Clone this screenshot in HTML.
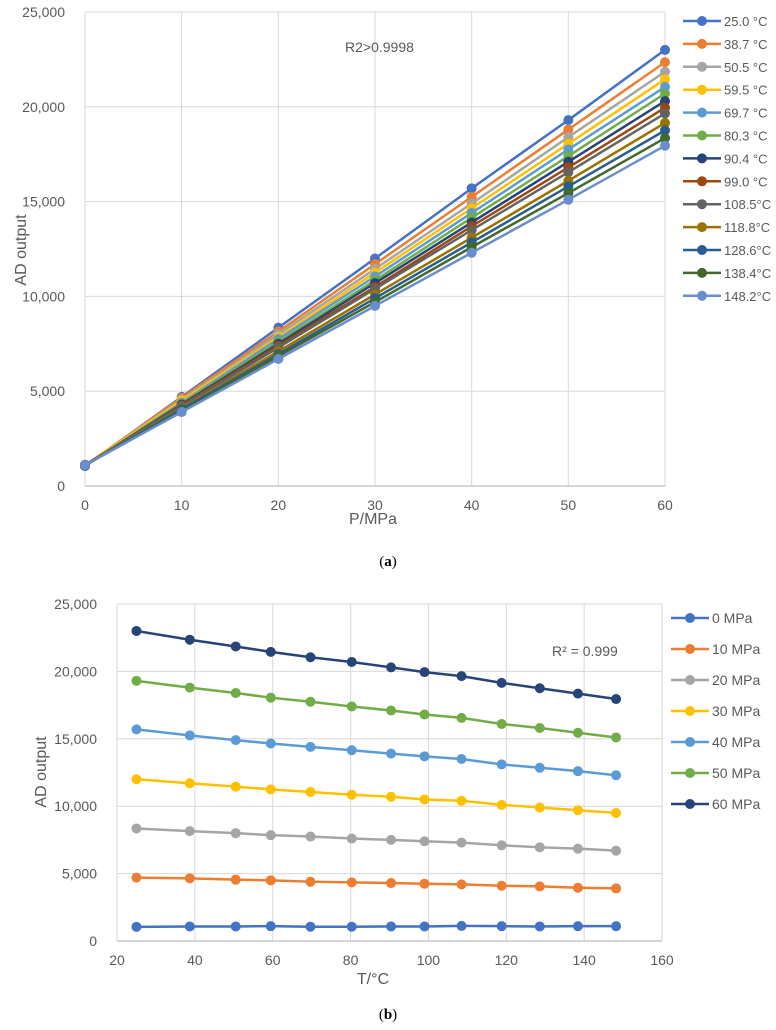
<!DOCTYPE html>
<html><head><meta charset="utf-8"><style>
body{margin:0;background:#fff;}
svg{display:block;font-family:"Liberation Sans",sans-serif;}
</style></head><body>
<svg id="s" width="776" height="1030"></svg>
<script>
const temps=[25,38.7,50.5,59.5,69.7,80.3,90.4,99.0,108.5,118.8,128.6,138.4,148.2];
const tempLabels=["25.0 °C","38.7 °C","50.5 °C","59.5 °C","69.7 °C","80.3 °C","90.4 °C","99.0 °C","108.5°C","118.8°C","128.6°C","138.4°C","148.2°C"];
const pressures=[0,10,20,30,40,50,60];
const pressureLabels=[" 0 MPa","10 MPa","20 MPa","30 MPa","40 MPa","50 MPa","60 MPa"];
const v0=[1050,1080,1080,1100,1060,1060,1080,1080,1120,1100,1080,1100,1100];
const v10=[4700,4650,4550,4500,4400,4350,4300,4250,4200,4100,4050,3950,3900];
const v20=[8350,8150,8000,7850,7750,7600,7500,7400,7300,7100,6950,6850,6700];
const v30=[12000,11700,11450,11250,11050,10850,10700,10500,10400,10100,9900,9700,9500];
const v40=[15700,15250,14900,14650,14400,14150,13900,13700,13500,13100,12850,12600,12300];
const v50=[19300,18800,18400,18050,17750,17400,17100,16800,16550,16100,15800,15450,15100];
const v60=[23000,22350,21850,21450,21050,20700,20300,19950,19650,19150,18750,18350,17950];
const yTicks=[0,5000,10000,15000,20000,25000];
const yTickLabels=["0","5,000","10,000","15,000","20,000","25,000"];
const xTicksA=[0,10,20,30,40,50,60];
const xTicksB=[20,40,60,80,100,120,140,160];
const colors=["#4472C4","#ED7D31","#A5A5A5","#FFC000","#5B9BD5","#70AD47","#264478","#9E480E","#636363","#997300","#255E91","#43682B","#698ED0"];
const byP=[v0,v10,v20,v30,v40,v50,v60];
const NS="http://www.w3.org/2000/svg";
const svg=document.getElementById('s');
function el(t,a,p){const e=document.createElementNS(NS,t);for(const k in a)e.setAttribute(k,a[k]);(p||svg).appendChild(e);return e;}
function txt(x,y,s,a,p){const e=el('text',Object.assign({x:x,y:y,fill:'#595959','font-size':14},a),p);e.textContent=s;return e;}

function chart(cfg){
  const g=el('g',{});
  
  
  const X=v=>cfg.x0+(v-cfg.xmin)/(cfg.xmax-cfg.xmin)*(cfg.x1-cfg.x0);
  const Y=v=>cfg.y0-(v/25000)*(cfg.y0-cfg.y1);
  cfg.xt.forEach(t=>{const l=el('line',{x1:X(t),x2:X(t),y1:cfg.y1,y2:cfg.y0,stroke:'#d9d9d9','stroke-width':1},g);
    
    const tl=txt(X(t),cfg.y0+24,String(t),{'text-anchor':'middle'},g);
    });
  yTicks.forEach((t,i)=>{const l=el('line',{x1:cfg.x0,x2:cfg.x1,y1:Y(t),y2:Y(t),stroke:'#d9d9d9','stroke-width':1},g);
    
    const tl=txt(cfg.x0-20,Y(t)+5,yTickLabels[i],{'text-anchor':'end'},g);
    });
  el('line',{x1:cfg.x0,x2:cfg.x1,y1:cfg.y0,y2:cfg.y0,stroke:'#bfbfbf','stroke-width':1.2},g);
  cfg.series.forEach((s,i)=>{
    const sg=el('g',{},g);
    
    
    const pts=s.xs.map((x,j)=>X(x)+','+Y(s.ys[j])).join(' ');
    el('polyline',{points:pts,fill:'none',stroke:cfg.colors[i],'stroke-width':2.5},sg);
    s.xs.forEach((x,j)=>{const c=el('circle',{cx:X(x),cy:Y(s.ys[j]),r:5,fill:cfg.colors[i]},sg);
      });
    const ly=cfg.legY+i*cfg.legDy;
    const lg=el('g',{},g);
    
    el('line',{x1:cfg.legX,x2:cfg.legX+38,y1:ly,y2:ly,stroke:cfg.colors[i],'stroke-width':2.5},lg);
    el('circle',{cx:cfg.legX+19,cy:ly,r:5,fill:cfg.colors[i]},lg);
    txt(cfg.legX+41,ly+5,cfg.labels[i],{'font-size':cfg.legFs,'xml:space':'preserve'},lg);
  });
  return {X,Y,g};
}
const seriesA=temps.map((t,i)=>({xs:pressures,ys:byP.map(arr=>arr[i])}));
chart({name:'chart-a',x0:85,x1:665,y0:486,y1:12,xmin:0,xmax:60,xt:xTicksA,series:seriesA,colors:colors,labels:tempLabels,legX:683,legY:21,legDy:22.9,legFs:13});
const seriesB=byP.map(arr=>({xs:temps,ys:arr}));
chart({name:'chart-b',x0:117,x1:662,y0:941,y1:604,xmin:20,xmax:160,xt:xTicksB,series:seriesB,colors:colors.slice(0,7),labels:pressureLabels,legX:671,legY:618,legDy:31,legFs:14});
let t;
t=txt(345,52,'R2>0.9998',{});
t=txt(552,656,'R² = 0.999',{});
t=txt(26,250,'AD output',{'text-anchor':'middle','font-size':16,transform:'rotate(-90 26 250)'});
t=txt(46,772,'AD output',{'text-anchor':'middle','font-size':16,transform:'rotate(-90 46 772)'});
t=txt(373,524,'P/MPa',{'text-anchor':'middle','font-size':16});
t=txt(373,984,'T/°C',{'text-anchor':'middle','font-size':16});
t=txt(388,566,'(a)',{'text-anchor':'middle','font-size':15,fill:'#000','font-family':'Liberation Serif, serif'});
t.innerHTML='(<tspan font-weight="bold">a</tspan>)';
t=txt(388,1019,'(b)',{'text-anchor':'middle','font-size':15,fill:'#000','font-family':'Liberation Serif, serif'});
t.innerHTML='(<tspan font-weight="bold">b</tspan>)';
</script>
</body></html>
